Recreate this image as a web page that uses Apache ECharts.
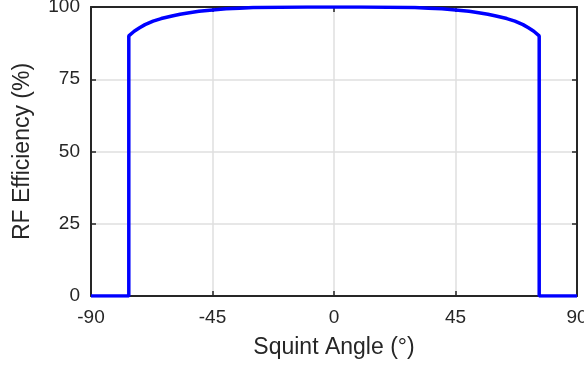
<!DOCTYPE html>
<html>
<head>
<meta charset="utf-8">
<style>html,body{margin:0;padding:0;background:#fff}#c{width:584px;height:370px}</style>
<script src="https://cdn.jsdelivr.net/npm/echarts@6/dist/echarts.min.js"></script>
</head>
<body>
<div id="c"></div>
<script>
// Squint angle (deg) and RF efficiency (%)
const angles = [-90, -76, -76, -74, -72, -70, -67, -64, -60, -57, -53, -50, -45, -40, -35, -30, -20, -10, 0, 10, 20, 30, 35, 40, 45, 50, 53, 57, 60, 64, 67, 70, 72, 74, 76, 76, 90];
const efficiency = [0, 0, 90, 91.6, 92.8, 93.9, 95.1, 96.0, 96.9, 97.5, 98.1, 98.5, 99.0, 99.4, 99.6, 99.8, 99.95, 100, 100, 100, 99.95, 99.8, 99.6, 99.4, 99.0, 98.5, 98.1, 97.5, 96.9, 96.0, 95.1, 93.9, 92.8, 91.6, 90, 0, 0];
const xTicks = [-90, -45, 0, 45, 90];
const yTicks = [0, 25, 50, 75, 100];

const font = 'Liberation Sans, Arial, sans-serif';
const axisColor = '#262626';
const chart = echarts.init(document.getElementById('c'), null, {renderer: 'canvas'});
const tickStyle = {show: true, inside: true, length: 5, lineStyle: {color: axisColor, width: 1.5}};
chart.setOption({
  animation: false,
  grid: {left: 91, right: 7, top: 7, bottom: 74, show: false, outerBoundsMode: 'none', containLabel: false},
  xAxis: [{
    type: 'value', min: -90, max: 90, interval: 45,
    name: 'Squint Angle (°)', nameLocation: 'middle', nameGap: 40,
    nameTextStyle: {fontFamily: font, fontSize: 23, color: axisColor},
    axisLine: {show: true, onZero: false, lineStyle: {color: axisColor, width: 2}},
    axisTick: tickStyle,
    axisLabel: {fontFamily: font, fontSize: 19, color: axisColor, margin: 12,
      formatter: v => xTicks.includes(v) ? String(v) : ''},
    splitLine: {show: true, lineStyle: {color: '#dfdfdf', width: 1.5}}
  }, {
    type: 'value', min: -90, max: 90, interval: 45, position: 'top',
    axisLine: {show: true, onZero: false, lineStyle: {color: axisColor, width: 2}},
    axisTick: tickStyle, axisLabel: {show: false}, splitLine: {show: false}
  }],
  yAxis: [{
    type: 'value', min: 0, max: 100, interval: 25,
    name: 'RF Efficiency (%)', nameLocation: 'middle', nameGap: 57,
    nameTextStyle: {fontFamily: font, fontSize: 23, color: axisColor},
    axisLine: {show: true, onZero: false, lineStyle: {color: axisColor, width: 2}},
    axisTick: tickStyle,
    axisLabel: {fontFamily: font, fontSize: 19, color: axisColor, margin: 11,
      formatter: v => yTicks.includes(v) ? String(v) : ''},
    splitLine: {show: true, lineStyle: {color: '#dfdfdf', width: 1.5}}
  }, {
    type: 'value', min: 0, max: 100, interval: 25, position: 'right',
    axisLine: {show: true, onZero: false, lineStyle: {color: axisColor, width: 2}},
    axisTick: tickStyle, axisLabel: {show: false}, splitLine: {show: false}
  }],
  series: [{
    type: 'line',
    data: angles.map((a, i) => [a, efficiency[i]]),
    showSymbol: false,
    smooth: false,
    lineStyle: {color: '#0000ff', width: 3.5},
    z: 1
  }]
});
</script>
</body>
</html>
